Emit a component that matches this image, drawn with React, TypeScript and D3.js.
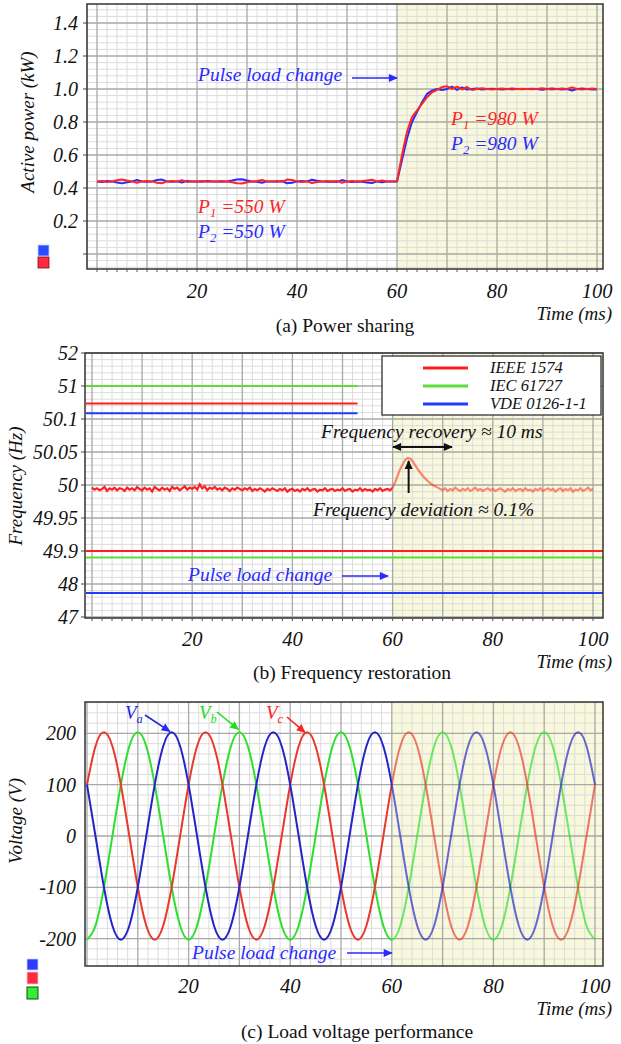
import { useEffect } from "react";
import { scaleLinear, line as d3line, curveNatural, curveLinear, range } from "d3";

const FONT = "Liberation Serif, Times New Roman, Times, serif";

// (a) power sharing, one reading per ms (kW)
const powerP1 = [
  0.44, 0.443, 0.437, 0.44, 0.447, 0.452, 0.445, 0.44, 0.432, 0.44,
  0.442, 0.44, 0.432, 0.429, 0.44, 0.442, 0.44, 0.447, 0.437, 0.44,
  0.44, 0.442, 0.438, 0.44, 0.44, 0.442, 0.44, 0.435, 0.429, 0.427,
  0.435, 0.44, 0.442, 0.448, 0.44, 0.44, 0.442, 0.438, 0.451, 0.448,
  0.44, 0.437, 0.44, 0.43, 0.436, 0.44, 0.442, 0.44, 0.443, 0.432,
  0.44, 0.443, 0.44, 0.442, 0.446, 0.45, 0.44, 0.445, 0.44, 0.44,
  0.44, 0.6, 0.74, 0.83, 0.87, 0.91, 0.95, 0.98, 0.995, 1.012,
  1.016, 1.0, 1.014, 0.997, 1.012, 0.994, 1.0, 1.004, 1.0, 0.997,
  1.0, 1.003, 1.0, 0.997, 1.0, 1.002, 1.0, 0.998, 1.0, 1.004,
  1.0, 0.997, 1.0, 1.003, 1.0, 1.01, 1.0, 0.997, 1.0, 1.003, 1.0,
];
const powerP2 = [
  0.44, 0.437, 0.443, 0.44, 0.433, 0.428, 0.435, 0.44, 0.448, 0.44,
  0.438, 0.44, 0.448, 0.451, 0.44, 0.438, 0.44, 0.433, 0.443, 0.44,
  0.44, 0.438, 0.442, 0.44, 0.44, 0.438, 0.44, 0.445, 0.451, 0.453,
  0.445, 0.44, 0.438, 0.432, 0.44, 0.44, 0.438, 0.442, 0.429, 0.432,
  0.44, 0.443, 0.44, 0.45, 0.444, 0.44, 0.438, 0.44, 0.437, 0.448,
  0.44, 0.437, 0.44, 0.438, 0.434, 0.43, 0.44, 0.435, 0.44, 0.44,
  0.44, 0.57, 0.7, 0.8, 0.86, 0.92, 0.97, 0.99, 1.0, 0.994,
  1.0, 1.014, 0.994, 1.01, 0.997, 1.0, 1.003, 0.997, 1.0, 1.002,
  1.0, 0.997, 1.0, 1.003, 1.0, 0.998, 1.0, 1.002, 1.0, 0.996,
  1.0, 1.003, 1.0, 0.997, 1.0, 0.991, 1.0, 1.003, 1.0, 0.997, 0.997,
];
const powerTicks = [0.2, 0.4, 0.6, 0.8, 1.0, 1.2, 1.4];

// (b) frequency, one reading per 0.5 ms (Hz)
const freqHz = [
  49.996, 49.993, 49.995, 49.992, 49.994, 49.997, 49.991, 49.995, 49.993, 49.996, 49.992, 49.995, 49.994, 49.991, 49.996, 49.993, 49.995, 49.992, 49.997, 49.994,
  49.992, 49.996, 49.993, 49.995, 49.99, 49.997, 49.994, 49.992, 49.996, 49.993, 49.995, 49.991, 49.997, 49.994, 49.996, 49.992, 49.995, 49.998, 49.993, 49.996,
  49.994, 49.997, 49.993, 50.001, 49.995, 49.998, 49.992, 49.996, 49.994, 49.997, 49.993, 49.995, 49.992, 49.996, 49.994, 49.991, 49.995, 49.993, 49.996, 49.994,
  49.992, 49.995, 49.993, 49.996, 49.991, 49.994, 49.992, 49.995, 49.993, 49.99, 49.994, 49.992, 49.995, 49.993, 49.991, 49.994, 49.992, 49.995, 49.99, 49.993,
  49.994, 49.991, 49.993, 49.99, 49.994, 49.992, 49.995, 49.991, 49.993, 49.994, 49.99, 49.993, 49.992, 49.995, 49.991, 49.993, 49.994, 49.991, 49.993, 49.992,
  49.995, 49.991, 49.993, 49.994, 49.99, 49.993, 49.992, 49.995, 49.991, 49.994, 49.992, 49.993, 49.99, 49.994, 49.992, 49.995, 49.991, 49.993, 49.994, 49.992,
  49.996, 50.004, 50.014, 50.024, 50.031, 50.038, 50.041, 50.04, 50.036, 50.03, 50.024, 50.019, 50.014, 50.01, 50.006, 50.003, 50.0, 49.998, 49.996, 49.994,
  49.992, 49.995, 49.991, 49.994, 49.992, 49.996, 49.993, 49.991, 49.994, 49.992, 49.995, 49.991, 49.993, 49.996, 49.992, 49.994, 49.991, 49.993, 49.995, 49.992,
  49.994, 49.991, 49.993, 49.995, 49.992, 49.99, 49.994, 49.992, 49.995, 49.991, 49.993, 49.994, 49.991, 49.995, 49.992, 49.993, 49.99, 49.994, 49.992, 49.995,
  49.991, 49.993, 49.995, 49.992, 49.994, 49.99, 49.993, 49.995, 49.991, 49.994, 49.992, 49.995, 49.99, 49.993, 49.992, 49.995, 49.991, 49.993, 49.996, 49.992, 49.994,
];
const freqTicks = [47, 48, 49.9, 49.95, 50, 50.05, 50.1, 51, 52];
const limitNames = ["IEEE 1574", "IEC 61727", "VDE 0126-1-1"];
const limitColors = ["#ff1f1f", "#5fdc3c", "#1f3cff"];
const limitUpper = [50.52, 51, 50.26];
const limitLower = [49.9, 49.52, 47.73];

// (c) load voltage, one reading per 1.667 ms (V)
const va = [
  100, 0, -100, -175, -202, -175, -100, 0, 100, 175, 202, 175,
  100, 0, -100, -175, -202, -175, -100, 0, 100, 175, 202, 175,
  100, 0, -100, -175, -202, -175, -100, 0, 100, 175, 202, 175,
  100, 0, -100, -175, -202, -175, -100, 0, 100, 175, 202, 175,
  100, 0, -100, -175, -202, -175, -100, 0, 100, 175, 202, 175,
  100,
];
const vb = [
  -202, -175, -100, 0, 100, 175, 202, 175, 100, 0, -100, -175,
  -202, -175, -100, 0, 100, 175, 202, 175, 100, 0, -100, -175,
  -202, -175, -100, 0, 100, 175, 202, 175, 100, 0, -100, -175,
  -202, -175, -100, 0, 100, 175, 202, 175, 100, 0, -100, -175,
  -202, -175, -100, 0, 100, 175, 202, 175, 100, 0, -100, -175,
  -202,
];
const vc = [
  100, 175, 202, 175, 100, 0, -100, -175, -202, -175, -100, 0,
  100, 175, 202, 175, 100, 0, -100, -175, -202, -175, -100, 0,
  100, 175, 202, 175, 100, 0, -100, -175, -202, -175, -100, 0,
  100, 175, 202, 175, 100, 0, -100, -175, -202, -175, -100, 0,
  100, 175, 202, 175, 100, 0, -100, -175, -202, -175, -100, 0,
  100,
];
const voltTicks = [-200, -100, 0, 100, 200];
const timeTicks = [20, 40, 60, 80, 100];

const powerTime = range(0, powerP1.length);
const freqTime = range(0, freqHz.length).map((i) => i * 0.5);
const voltTime = range(0, va.length).map((i) => (i * 100) / 60);

const YELLOW = "#f8f8dc";
const MINOR = "#dcdcdc";
const MAJOR = "#a8a8a8";

type GridLine = { p: number; major: boolean };

function Grid({ L, R, T, B, v, h }: { L: number; R: number; T: number; B: number; v: GridLine[]; h: GridLine[] }) {
  const vs = v.filter((g) => g.p >= L && g.p <= R);
  const hs = h.filter((g) => g.p >= T && g.p <= B);
  return (
    <g>
      {vs.filter((g) => !g.major).map((g, i) => (
        <line key={"vm" + i} x1={g.p} x2={g.p} y1={T} y2={B} stroke={MINOR} strokeWidth={1} />
      ))}
      {hs.filter((g) => !g.major).map((g, i) => (
        <line key={"hm" + i} x1={L} x2={R} y1={g.p} y2={g.p} stroke={MINOR} strokeWidth={1} />
      ))}
      {vs.filter((g) => g.major).map((g, i) => (
        <line key={"vM" + i} x1={g.p} x2={g.p} y1={T} y2={B} stroke={MAJOR} strokeWidth={1.3} />
      ))}
      {hs.filter((g) => g.major).map((g, i) => (
        <line key={"hM" + i} x1={L} x2={R} y1={g.p} y2={g.p} stroke={MAJOR} strokeWidth={1.3} />
      ))}
    </g>
  );
}

function XAxis({ x, B, labelY, titleY, ticks = true }: { x: (t: number) => number; B: number; labelY: number; titleY: number; ticks?: boolean }) {
  return (
    <g>
      {ticks &&
        range(0, 101, 2).map((t) => (
          <line key={t} x1={x(t)} x2={x(t)} y1={B} y2={B + 3} stroke="#555" strokeWidth={1} />
        ))}
      {timeTicks.map((t) => (
        <text key={t} x={x(t)} y={labelY} textAnchor="middle" fontSize={20.5} fontStyle="italic" fill="#111" fontFamily={FONT}>
          {t}
        </text>
      ))}
      <text x={612} y={titleY} textAnchor="end" fontSize={19} fontStyle="italic" fill="#111" fontFamily={FONT}>
        Time (ms)
      </text>
    </g>
  );
}

function SubText({ x, y, main, sub, rest, color, size }: { x: number; y: number; main: string; sub: string; rest: string; color: string; size: number }) {
  return (
    <text x={x} y={y} fill={color} fontSize={size} fontStyle="italic" fontFamily={FONT}>
      {main}
      <tspan fontSize={size * 0.65} dy={size * 0.22}>
        {sub}
      </tspan>
      <tspan dy={-size * 0.22}>{rest}</tspan>
    </text>
  );
}

function PowerPanel() {
  const L = 87, R = 603, T = 4, B = 269;
  const x = scaleLinear().domain([0, 100]).range([97, 597]);
  const y = scaleLinear().domain([0, 1.4]).range([254, 23]);
  const v = range(-2, 102, 2).map((t) => ({ p: x(t), major: t % 10 === 0 }));
  const h = range(-3, 40).map((k) => ({ p: y(k * 0.04), major: k % 5 === 0 }));
  const gen = d3line<number>()
    .x((_, i) => x(powerTime[i]))
    .y((d) => y(d))
    .curve(curveLinear);

  return (
    <g>
      <rect x={L} y={T} width={R - L} height={B - T} fill="white" />
      <rect x={x(60)} y={T} width={R - x(60)} height={B - T} fill={YELLOW} />
      <Grid L={L} R={R} T={T} B={B} v={v} h={h} />
      <clipPath id="clipA">
        <rect x={L} y={T} width={R - L} height={B - T} />
      </clipPath>
      <g clipPath="url(#clipA)">
        <path d={gen(powerP2) ?? ""} fill="none" stroke="#2a2aff" strokeWidth={2} strokeLinejoin="round" />
        <path d={gen(powerP1) ?? ""} fill="none" stroke="#ff2424" strokeWidth={2} strokeLinejoin="round" />
      </g>
      <rect x={L} y={T} width={R - L} height={B - T} fill="none" stroke="#333" strokeWidth={1.5} />
      {[0, ...powerTicks].map((t) => (
        <line key={t} x1={L - 4} x2={L} y1={y(t)} y2={y(t)} stroke="#444" strokeWidth={1} />
      ))}
      {powerTicks.map((t) => (
        <text key={t} x={78} y={y(t)} dy="0.35em" textAnchor="end" fontSize={20} fontStyle="italic" fill="#111" fontFamily={FONT}>
          {t.toFixed(1)}
        </text>
      ))}
      <text transform="translate(34,122) rotate(-90)" textAnchor="middle" fontSize={19} fontStyle="italic" fill="#111" fontFamily={FONT}>
        Active power (kW)
      </text>
      <XAxis x={x} B={B} labelY={298} titleY={320} />
      <text x={345} y={332} textAnchor="middle" fontSize={19.5} fill="#111" fontFamily={FONT}>
        (a) Power sharing
      </text>

      <text x={198} y={81} fontSize={19.5} fontStyle="italic" fill="#2a2aff" fontFamily={FONT}>
        Pulse load change
      </text>
      <line x1={352} x2={x(60)} y1={78} y2={78} stroke="#2a2aff" strokeWidth={1.6} markerEnd="url(#arrBlue)" />

      <SubText x={198} y={213} main="P" sub="1" rest=" =550 W" color="#ff2424" size={19.5} />
      <SubText x={198} y={238} main="P" sub="2" rest=" =550 W" color="#2a2aff" size={19.5} />
      <SubText x={451} y={125} main="P" sub="1" rest=" =980 W" color="#ff2424" size={19.5} />
      <SubText x={451} y={150} main="P" sub="2" rest=" =980 W" color="#2a2aff" size={19.5} />

      <rect x={38} y={245} width={11} height={11} fill="#2a4cff" stroke="#c8d0ff" strokeWidth={0.8} />
      <rect x={38} y={257} width={11} height={11} fill="#ff2a3c" stroke="#7a1010" strokeWidth={0.8} />
    </g>
  );
}

function FreqPanel() {
  const L = 85, R = 603, T = 353, B = 618;
  const x = scaleLinear().domain([0, 100]).range([92, 593]);
  const y = scaleLinear()
    .domain(freqTicks)
    .range(freqTicks.map((_, i) => 617 - i * 33));
  const v = range(-2, 104, 2).map((t) => ({ p: x(t), major: t % 10 === 0 }));
  const h: GridLine[] = [];
  freqTicks.forEach((t, i) => {
    h.push({ p: y(t), major: true });
    if (i < freqTicks.length - 1) {
      const a = y(t), b = y(freqTicks[i + 1]);
      for (let j = 1; j < 5; j++) h.push({ p: a + ((b - a) * j) / 5, major: false });
    }
  });
  const gen = d3line<number>()
    .x((_, i) => x(freqTime[i]))
    .y((d) => y(d));
  const freqPath = gen(freqHz) ?? "";

  return (
    <g>
      <rect x={L} y={T} width={R - L} height={B - T} fill="white" />
      <rect x={x(60)} y={T} width={R - x(60)} height={B - T} fill={YELLOW} />
      <Grid L={L} R={R} T={T} B={B} v={v} h={h} />
      <clipPath id="clipB1">
        <rect x={L} y={T} width={x(60) - L} height={B - T} />
      </clipPath>
      <clipPath id="clipB2">
        <rect x={x(60)} y={T} width={R - x(60)} height={B - T} />
      </clipPath>
      <path d={freqPath} fill="none" stroke="#ff2020" strokeWidth={2.2} clipPath="url(#clipB1)" />
      <path d={freqPath} fill="none" stroke="#ff3a24" strokeWidth={2.2} opacity={0.6} clipPath="url(#clipB2)" />

      {limitUpper.map((f, i) => (
        <line key={"u" + i} x1={L + 1} x2={x(53)} y1={y(f)} y2={y(f)} stroke={limitColors[i]} strokeWidth={2} />
      ))}
      {limitLower.map((f, i) => (
        <line key={"l" + i} x1={L + 1} x2={R} y1={y(f)} y2={y(f)} stroke={limitColors[i]} strokeWidth={2} />
      ))}

      <rect x={L} y={T} width={R - L} height={B - T} fill="none" stroke="#333" strokeWidth={1.5} />
      {freqTicks.map((t) => (
        <line key={t} x1={L - 4} x2={L} y1={y(t)} y2={y(t)} stroke="#444" strokeWidth={1} />
      ))}
      {freqTicks.map((t) => (
        <text key={t} x={78} y={y(t)} dy="0.35em" textAnchor="end" fontSize={20} fontStyle="italic" fill="#111" fontFamily={FONT}>
          {String(t)}
        </text>
      ))}
      <text transform="translate(22,486) rotate(-90)" textAnchor="middle" fontSize={19} fontStyle="italic" fill="#111" fontFamily={FONT}>
        Frequency (Hz)
      </text>
      <XAxis x={x} B={B} labelY={646} titleY={668} />
      <text x={352} y={679} textAnchor="middle" fontSize={19.5} fill="#111" fontFamily={FONT}>
        (b) Frequency restoration
      </text>

      <rect x={382} y={356} width={219} height={59} fill="white" stroke="#222" strokeWidth={1.2} />
      {limitNames.map((n, i) => (
        <g key={n}>
          <line x1={423} x2={468} y1={368 + i * 18} y2={368 + i * 18} stroke={limitColors[i]} strokeWidth={3} />
          <text x={490} y={373 + i * 18} fontSize={16.5} fontStyle="italic" fill="#111" fontFamily={FONT}>
            {n}
          </text>
        </g>
      ))}

      <text x={321} y={438} fontSize={19.5} fontStyle="italic" fill="#111" fontFamily={FONT}>
        Frequency recovery ≈ 10 ms
      </text>
      <line x1={393} x2={452} y1={447} y2={447} stroke="#111" strokeWidth={2} markerStart="url(#arrBlack)" markerEnd="url(#arrBlack)" />
      <line x1={x(63.2)} x2={x(63.2)} y1={493} y2={461} stroke="#111" strokeWidth={2} markerEnd="url(#arrBlack)" />
      <text x={313} y={516} fontSize={19.5} fontStyle="italic" fill="#111" fontFamily={FONT}>
        Frequency deviation ≈ 0.1%
      </text>

      <text x={188} y={581} fontSize={19.5} fontStyle="italic" fill="#2a2aff" fontFamily={FONT}>
        Pulse load change
      </text>
      <line x1={342} x2={388} y1={576} y2={576} stroke="#2a2aff" strokeWidth={1.6} markerEnd="url(#arrBlue)" />
    </g>
  );
}

function VoltagePanel() {
  const L = 85, R = 603, T = 702, B = 966;
  const x = scaleLinear().domain([0, 100]).range([87, 595]);
  const y = scaleLinear().domain([-200, 200]).range([938.6, 733.4]);
  const v = range(0, 104, 2).map((t) => ({ p: x(t), major: t % 10 === 0 }));
  const h = range(-13, 14).map((k) => ({ p: y(k * 20), major: k % 5 === 0 }));
  const gen = d3line<number>()
    .x((_, i) => x(voltTime[i]))
    .y((d) => y(d))
    .curve(curveNatural);
  const series = [
    { d: gen(vb) ?? "", c: "#2ee02e" },
    { d: gen(vc) ?? "", c: "#e8392c" },
    { d: gen(va) ?? "", c: "#2424c8" },
  ];

  return (
    <g>
      <rect x={L} y={T} width={R - L} height={B - T} fill="white" />
      <rect x={x(60)} y={T} width={R - x(60)} height={B - T} fill={YELLOW} />
      <Grid L={L} R={R} T={T} B={B} v={v} h={h} />
      <clipPath id="clipC1">
        <rect x={L} y={T} width={x(60) - L} height={B - T} />
      </clipPath>
      <clipPath id="clipC2">
        <rect x={x(60)} y={T} width={R - x(60)} height={B - T} />
      </clipPath>
      {series.map((s, i) => (
        <g key={i}>
          <path d={s.d} fill="none" stroke={s.c} strokeWidth={2} clipPath="url(#clipC1)" />
          <path d={s.d} fill="none" stroke={s.c} strokeWidth={2} opacity={0.68} clipPath="url(#clipC2)" />
        </g>
      ))}
      <rect x={L} y={T} width={R - L} height={B - T} fill="none" stroke="#333" strokeWidth={1.5} />
      {voltTicks.map((t) => (
        <text key={t} x={76} y={y(t)} dy="0.35em" textAnchor="end" fontSize={20} fontStyle="italic" fill="#111" fontFamily={FONT}>
          {t}
        </text>
      ))}
      <text transform="translate(22,821) rotate(-90)" textAnchor="middle" fontSize={19} fontStyle="italic" fill="#111" fontFamily={FONT}>
        Voltage (V)
      </text>
      <XAxis x={x} B={B} labelY={993} titleY={1015} ticks={false} />
      <text x={357} y={1038} textAnchor="middle" fontSize={19.5} fill="#111" fontFamily={FONT}>
        (c) Load voltage performance
      </text>

      <SubText x={125} y={719} main="V" sub="a" rest="" color="#2424e0" size={19} />
      <line x1={145} x2={x(16.7) - 2} y1={715} y2={y(200) - 2} stroke="#2424e0" strokeWidth={1.6} markerEnd="url(#arrBlue)" />
      <SubText x={199} y={719} main="V" sub="b" rest="" color="#22dd22" size={19} />
      <line x1={217} x2={x(30) - 1} y1={712} y2={y(200) - 4} stroke="#22dd22" strokeWidth={1.6} markerEnd="url(#arrGreen)" />
      <SubText x={266} y={719} main="V" sub="c" rest="" color="#ff2020" size={19} />
      <line x1={287} x2={x(43.3) - 2} y1={717} y2={y(200) - 1} stroke="#ff2020" strokeWidth={1.6} markerEnd="url(#arrRed)" />

      <text x={192} y={959} fontSize={19.5} fontStyle="italic" fill="#2a2aff" fontFamily={FONT}>
        Pulse load change
      </text>
      <line x1={347} x2={x(60)} y1={953} y2={953} stroke="#2a2aff" strokeWidth={1.6} markerEnd="url(#arrBlue)" />

      <rect x={27} y={959} width={11} height={11} fill="#2a3cff" stroke="#c8d0ff" strokeWidth={0.8} />
      <rect x={27} y={972} width={11} height={12} fill="#ff2a44" stroke="#f0c8c8" strokeWidth={0.8} />
      <rect x={27} y={987} width={11} height={12} fill="#33ee33" stroke="#1a4a1a" strokeWidth={1} />
    </g>
  );
}

function Marker({ id, color }: { id: string; color: string }) {
  return (
    <marker id={id} viewBox="0 0 10 10" refX={9} refY={5} markerWidth={11} markerHeight={9} markerUnits="userSpaceOnUse" orient="auto-start-reverse">
      <path d="M0,0.5 L10,5 L0,9.5 Z" fill={color} />
    </marker>
  );
}

export default function App() {
  useEffect(() => {
    document.body.style.margin = "0";
  }, []);
  return (
    <svg
      width={621}
      height={1044}
      viewBox="0 0 621 1044"
      fontFamily={FONT}
      style={{ display: "block", position: "absolute", left: 0, top: 0 }}
    >
      <defs>
        <Marker id="arrBlue" color="#2a2aff" />
        <Marker id="arrBlack" color="#111" />
        <Marker id="arrRed" color="#ff2020" />
        <Marker id="arrGreen" color="#22dd22" />
      </defs>
      <rect width={621} height={1044} fill="white" />
      <PowerPanel />
      <FreqPanel />
      <VoltagePanel />
    </svg>
  );
}
